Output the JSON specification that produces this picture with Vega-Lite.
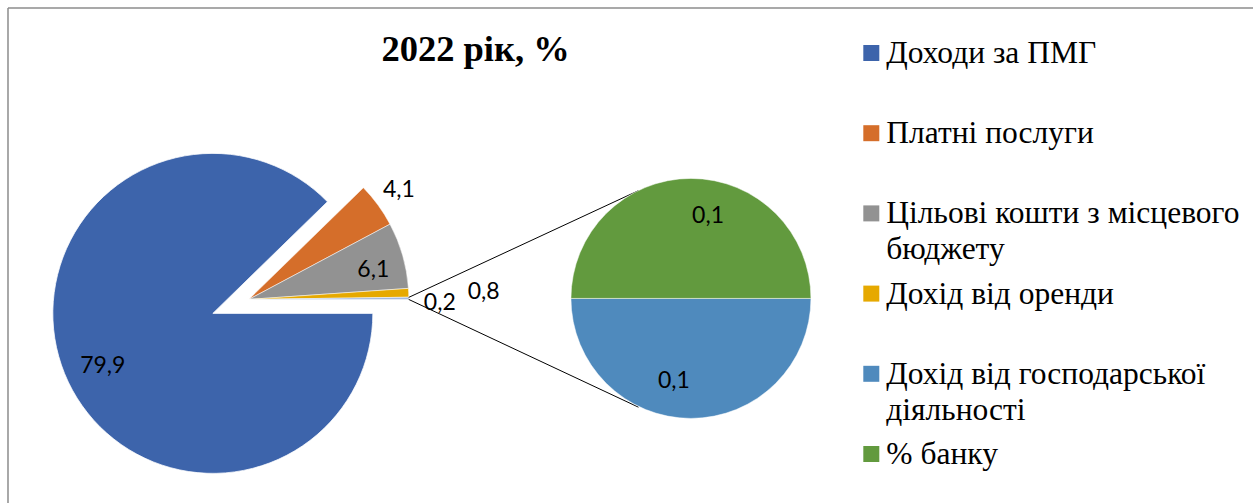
{
  "$schema": "https://vega.github.io/schema/vega-lite/v6.json",
  "width": 1254,
  "height": 504,
  "autosize": {"type": "fit", "contains": "padding"},
  "padding": 0,
  "background": "#ffffff",
  "config": {
    "view": {"stroke": null},
    "locale": {"number": {"decimal": ",", "thousands": " ", "grouping": [3], "currency": ["", ""]}}
  },
  "datasets": {
    "shares": [
      {"category": "Доходи за ПМГ", "value": 79.9, "pie": "main", "rank": 1},
      {"category": "Платні послуги", "value": 4.1, "pie": "main", "rank": 2},
      {"category": "Цільові кошти з місцевого\nбюджету", "value": 6.1, "pie": "main", "rank": 3},
      {"category": "Дохід від оренди", "value": 0.8, "pie": "main", "rank": 4},
      {"category": "Інше", "value": 0.2, "pie": "main", "rank": 5},
      {"category": "Дохід від господарської\nдіяльності", "value": 0.1, "pie": "second", "rank": 6},
      {"category": "% банку", "value": 0.1, "pie": "second", "rank": 7}
    ],
    "one": [{"item": 1}]
  },
  "data": {"name": "shares"},
  "layer": [
    {
      "layer": [
        {
          "data": {"name": "one"},
          "mark": {"type": "rule", "color": "#8c8c8c", "strokeWidth": 1.5},
          "encoding": {
            "x": {"datum": 8, "type": "quantitative", "scale": {"domain": [0, 1254]}, "axis": null},
            "x2": {"datum": 1254},
            "y": {"datum": 8, "type": "quantitative", "scale": {"domain": [0, 504], "reverse": true}, "axis": null}
          }
        },
        {
          "data": {"name": "one"},
          "mark": {"type": "rule", "color": "#8c8c8c", "strokeWidth": 1.5},
          "encoding": {
            "x": {"datum": 8, "type": "quantitative", "scale": {"domain": [0, 1254]}, "axis": null},
            "y": {"datum": 8, "type": "quantitative", "scale": {"domain": [0, 504], "reverse": true}, "axis": null},
            "y2": {"datum": 504}
          }
        },
        {
          "data": {"name": "one"},
          "mark": {"type": "text", "font": "Liberation Serif", "fontWeight": "bold", "fontSize": 36.5, "align": "center", "baseline": "alphabetic", "color": "#000000"},
          "encoding": {
            "text": {"value": "2022 рік, %"},
            "x": {"datum": 476, "type": "quantitative", "scale": {"domain": [0, 1254]}, "axis": null},
            "y": {"datum": 61, "type": "quantitative", "scale": {"domain": [0, 504], "reverse": true}, "axis": null}
          }
        },
        {
          "transform": [{"filter": "datum.pie === 'main'"}],
          "mark": {"type": "arc", "outerRadius": 160, "stroke": "#ffffff", "strokeWidth": 0.75},
          "encoding": {
            "theta": {"field": "value", "type": "quantitative", "stack": "normalize", "scale": {"domain": [0, 1], "range": [1.5707963, 7.8539816]}},
            "order": {"field": "rank", "type": "quantitative"},
            "color": {"field": "category", "type": "nominal", "legend": null,
              "scale": {"domain": ["Доходи за ПМГ", "Платні послуги", "Цільові кошти з місцевого\nбюджету", "Дохід від оренди", "Дохід від господарської\nдіяльності", "% банку", "Інше"],
                        "range": ["#3d64ab", "#d56e2a", "#929292", "#e6a900", "#4f8abd", "#629a3e", "#9db5dc"]}},
            "opacity": {"condition": {"test": "datum.rank === 1", "value": 1}, "value": 0},
            "x": {"datum": 213, "type": "quantitative", "scale": {"domain": [0, 1254]}, "axis": null},
            "y": {"datum": 314, "type": "quantitative", "scale": {"domain": [0, 504], "reverse": true}, "axis": null}
          }
        },
        {
          "transform": [{"filter": "datum.pie === 'main'"}],
          "mark": {"type": "arc", "outerRadius": 160, "stroke": "#ffffff", "strokeWidth": 0.5},
          "encoding": {
            "theta": {"field": "value", "type": "quantitative", "stack": "normalize", "scale": {"domain": [0, 1], "range": [1.5707963, 7.8539816]}},
            "order": {"field": "rank", "type": "quantitative"},
            "color": {"field": "category", "type": "nominal", "legend": null},
            "opacity": {"condition": {"test": "datum.rank === 1", "value": 0}, "value": 1},
            "x": {"datum": 249, "type": "quantitative", "scale": {"domain": [0, 1254]}, "axis": null},
            "y": {"datum": 300, "type": "quantitative", "scale": {"domain": [0, 504], "reverse": true}, "axis": null}
          }
        },
        {
          "transform": [{"filter": "datum.pie === 'main'"}],
          "mark": {"type": "text", "radius": 122, "thetaOffset": -0.06, "font": "Lato", "fontSize": 23, "color": "#000000"},
          "encoding": {
            "theta": {"field": "value", "type": "quantitative", "stack": "normalize", "scale": {"domain": [0, 1], "range": [1.5707963, 7.8539816]}},
            "order": {"field": "rank", "type": "quantitative"},
            "text": {"condition": {"test": "datum.rank === 1", "field": "value", "type": "quantitative", "format": ".1f"}, "value": ""},
            "x": {"datum": 213, "type": "quantitative", "scale": {"domain": [0, 1254]}, "axis": null},
            "y": {"datum": 314, "type": "quantitative", "scale": {"domain": [0, 504], "reverse": true}, "axis": null}
          }
        },
        {
          "transform": [{"filter": "datum.pie === 'main'"}],
          "mark": {"type": "text", "radius": 186, "font": "Lato", "fontSize": 23, "color": "#000000"},
          "encoding": {
            "theta": {"field": "value", "type": "quantitative", "stack": "normalize", "scale": {"domain": [0, 1], "range": [1.5707963, 7.8539816]}},
            "order": {"field": "rank", "type": "quantitative"},
            "text": {"condition": {"test": "datum.rank === 2", "field": "value", "type": "quantitative", "format": ".1f"}, "value": ""},
            "x": {"datum": 249, "type": "quantitative", "scale": {"domain": [0, 1254]}, "axis": null},
            "y": {"datum": 300, "type": "quantitative", "scale": {"domain": [0, 504], "reverse": true}, "axis": null}
          }
        },
        {
          "transform": [{"filter": "datum.pie === 'main'"}],
          "mark": {"type": "text", "radius": 128, "thetaOffset": 0.045, "font": "Lato", "fontSize": 23, "color": "#000000"},
          "encoding": {
            "theta": {"field": "value", "type": "quantitative", "stack": "normalize", "scale": {"domain": [0, 1], "range": [1.5707963, 7.8539816]}},
            "order": {"field": "rank", "type": "quantitative"},
            "text": {"condition": {"test": "datum.rank === 3", "field": "value", "type": "quantitative", "format": ".1f"}, "value": ""},
            "x": {"datum": 249, "type": "quantitative", "scale": {"domain": [0, 1254]}, "axis": null},
            "y": {"datum": 300, "type": "quantitative", "scale": {"domain": [0, 504], "reverse": true}, "axis": null}
          }
        },
        {
          "transform": [{"filter": "datum.pie === 'main'"}],
          "mark": {"type": "text", "radius": 235, "thetaOffset": 0.01, "font": "Lato", "fontSize": 23, "color": "#000000"},
          "encoding": {
            "theta": {"field": "value", "type": "quantitative", "stack": "normalize", "scale": {"domain": [0, 1], "range": [1.5707963, 7.8539816]}},
            "order": {"field": "rank", "type": "quantitative"},
            "text": {"condition": {"test": "datum.rank === 4", "field": "value", "type": "quantitative", "format": ".1f"}, "value": ""},
            "x": {"datum": 249, "type": "quantitative", "scale": {"domain": [0, 1254]}, "axis": null},
            "y": {"datum": 300, "type": "quantitative", "scale": {"domain": [0, 504], "reverse": true}, "axis": null}
          }
        },
        {
          "transform": [{"filter": "datum.pie === 'main'"}],
          "mark": {"type": "text", "radius": 191, "thetaOffset": 0.025, "font": "Lato", "fontSize": 23, "color": "#000000"},
          "encoding": {
            "theta": {"field": "value", "type": "quantitative", "stack": "normalize", "scale": {"domain": [0, 1], "range": [1.5707963, 7.8539816]}},
            "order": {"field": "rank", "type": "quantitative"},
            "text": {"condition": {"test": "datum.rank === 5", "field": "value", "type": "quantitative", "format": ".1f"}, "value": ""},
            "x": {"datum": 249, "type": "quantitative", "scale": {"domain": [0, 1254]}, "axis": null},
            "y": {"datum": 300, "type": "quantitative", "scale": {"domain": [0, 504], "reverse": true}, "axis": null}
          }
        },
        {
          "data": {"name": "one"},
          "mark": {"type": "rule", "color": "#000000", "strokeWidth": 1},
          "encoding": {
            "x": {"datum": 409, "type": "quantitative", "scale": {"domain": [0, 1254]}, "axis": null},
            "y": {"datum": 298, "type": "quantitative", "scale": {"domain": [0, 504], "reverse": true}, "axis": null},
            "x2": {"datum": 639},
            "y2": {"datum": 191}
          }
        },
        {
          "data": {"name": "one"},
          "mark": {"type": "rule", "color": "#000000", "strokeWidth": 1},
          "encoding": {
            "x": {"datum": 409, "type": "quantitative", "scale": {"domain": [0, 1254]}, "axis": null},
            "y": {"datum": 300, "type": "quantitative", "scale": {"domain": [0, 504], "reverse": true}, "axis": null},
            "x2": {"datum": 639},
            "y2": {"datum": 408}
          }
        },
        {
          "transform": [{"filter": "datum.pie === 'second'"}],
          "mark": {"type": "arc", "outerRadius": 120, "stroke": "#ffffff", "strokeWidth": 0.5},
          "encoding": {
            "theta": {"field": "value", "type": "quantitative", "stack": "normalize", "scale": {"domain": [0, 1], "range": [1.5707963, 7.8539816]}},
            "order": {"field": "rank", "type": "quantitative"},
            "color": {"field": "category", "type": "nominal", "legend": null},
            "x": {"datum": 691.5, "type": "quantitative", "scale": {"domain": [0, 1254]}, "axis": null},
            "y": {"datum": 299, "type": "quantitative", "scale": {"domain": [0, 504], "reverse": true}, "axis": null}
          }
        },
        {
          "transform": [{"filter": "datum.pie === 'second'"}],
          "mark": {"type": "text", "radius": 84, "thetaOffset": 0.205, "font": "Lato", "fontSize": 23, "color": "#000000"},
          "encoding": {
            "theta": {"field": "value", "type": "quantitative", "stack": "normalize", "scale": {"domain": [0, 1], "range": [1.5707963, 7.8539816]}},
            "order": {"field": "rank", "type": "quantitative"},
            "text": {"field": "value", "type": "quantitative", "format": ".1f"},
            "x": {"datum": 691.5, "type": "quantitative", "scale": {"domain": [0, 1254]}, "axis": null},
            "y": {"datum": 299, "type": "quantitative", "scale": {"domain": [0, 504], "reverse": true}, "axis": null}
          }
        }
      ]
    },
    {
      "transform": [{"filter": "datum.category !== 'Інше'"}],
      "layer": [
        {
          "mark": {"type": "square", "size": 256, "opacity": 1, "filled": true},
          "encoding": {
            "x": {"datum": 872, "type": "quantitative", "scale": {"domain": [0, 1254]}, "axis": null},
            "y": {"field": "category", "type": "nominal", "axis": null,
                  "scale": {"type": "point", "padding": 0, "domain": ["Доходи за ПМГ", "Платні послуги", "Цільові кошти з місцевого\nбюджету", "Дохід від оренди", "Дохід від господарської\nдіяльності", "% банку"], "range": [53, 454]}},
            "color": {"field": "category", "type": "nominal", "legend": null}
          }
        },
        {
          "mark": {"type": "text", "align": "left", "baseline": "alphabetic", "dy": 10, "font": "Liberation Serif", "fontSize": 31.5, "lineBreak": "\n", "lineHeight": 36, "color": "#000000"},
          "encoding": {
            "x": {"datum": 887, "type": "quantitative", "scale": {"domain": [0, 1254]}, "axis": null},
            "y": {"field": "category", "type": "nominal", "axis": null,
                  "scale": {"type": "point", "padding": 0, "domain": ["Доходи за ПМГ", "Платні послуги", "Цільові кошти з місцевого\nбюджету", "Дохід від оренди", "Дохід від господарської\nдіяльності", "% банку"], "range": [53, 454]}},
            "text": {"field": "category", "type": "nominal"}
          }
        }
      ]
    }
  ],
  "resolve": {"scale": {"y": "independent"}}
}
